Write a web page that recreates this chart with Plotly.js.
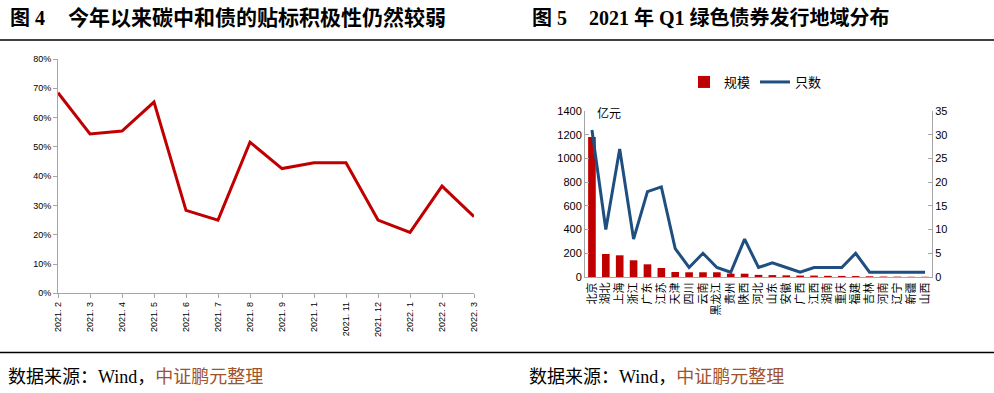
<!DOCTYPE html>
<html><head><meta charset="utf-8">
<script src="https://cdn.plot.ly/plotly-3.0.1.min.js"></script>
<style>body{margin:0;padding:0;background:#fff}#c{width:994px;height:393px}</style>
</head><body><div id="c"></div>
<script>
// Figure 4: share of labelled carbon-neutral bonds (%)
const months = ["2021. 2","2021. 3","2021. 4","2021. 5","2021. 6","2021. 7","2021. 8","2021. 9","2021. 1","2021. 11","2021. 12","2022. 1","2022. 2","2022. 3"];
const ratio = [68.5, 54.4, 55.4, 65.3, 28.3, 25.0, 51.6, 42.6, 44.6, 44.6, 25.0, 20.8, 36.6, 26.2];

// Figure 5: 2021 Q1 green bond issuance by region
const regions = ["北京","湖北","上海","浙江","广东","江苏","天津","四川","云南","黑龙江","贵州","陕西","河北","山东","安徽","广西","江西","湖南","重庆","福建","吉林","河南","辽宁","新疆","山西"];
const scale = [1180, 194, 183, 141, 107, 76, 42, 40, 40, 40, 28, 28, 18, 16, 14, 12, 12, 10, 9, 8, 6, 4, 3, 2, 2];
const count = [31, 10, 27, 8, 18, 19, 6, 2, 5, 2, 1, 8, 2, 3, 2, 1, 2, 2, 2, 5, 1, 1, 1, 1, 1];

const W = 994, H = 393;
const px = x => x / W, py = y => 1 - y / H;
const tickFont = {family: "Liberation Sans, Noto Sans CJK SC, sans-serif", size: 9, color: "#000"};
const cjkFont = {family: "Noto Sans CJK SC, sans-serif", size: 11, color: "#000"};
const axisGray = "#A6A6A6";

const traces = [
  {x: months, y: ratio, type: "scatter", mode: "lines", xaxis: "x", yaxis: "y",
   line: {color: "#C00000", width: 3}, showlegend: false, name: "比例"},
  {x: regions, y: scale, type: "bar", xaxis: "x2", yaxis: "y2", name: "规模",
   marker: {color: "#C00000"}},
  {x: regions, y: count, type: "scatter", mode: "lines", xaxis: "x2", yaxis: "y3", name: "只数",
   line: {color: "#1F4E80", width: 3}}
];

const titleFont = {family: "Liberation Serif, Noto Sans CJK SC, serif", size: 20, color: "#000", weight: 700};
const title1Font = Object.assign({}, titleFont, {size: 21});
const srcFont = {family: "Liberation Serif, Noto Sans CJK SC, serif", size: 18, color: "#000"};

const ann = (text, x, y, font) => ({text, xref: "paper", yref: "paper", x: px(x), y: py(y),
  xanchor: "left", yanchor: "middle", showarrow: false, font});

const layout = {
  width: W, height: H, autosize: false,
  margin: {l: 0, r: 0, t: 0, b: 0},
  paper_bgcolor: "#fff", plot_bgcolor: "rgba(0,0,0,0)",
  showlegend: true, bargap: 0.45,
  legend: {orientation: "h", x: px(684), y: py(67), xanchor: "left", yanchor: "top",
           font: {family: "Noto Sans CJK SC, sans-serif", size: 13, color: "#000"},
           bgcolor: "rgba(0,0,0,0)", itemwidth: 30, traceorder: "normal"},
  xaxis: {domain: [px(58), px(474)], type: "category", range: [0, 13],
          showline: true, linecolor: axisGray, linewidth: 1, ticks: "outside", ticklen: 4,
          tickcolor: axisGray, tickangle: -90, tickfont: tickFont, showgrid: false, zeroline: false,
          anchor: "y"},
  yaxis: {domain: [py(293.3), py(59)], range: [0, 80], dtick: 10, ticksuffix: "%",
          showline: true, linecolor: axisGray, linewidth: 1, ticks: "outside", ticklen: 4,
          tickcolor: axisGray, tickfont: tickFont, showgrid: false, zeroline: false, anchor: "x"},
  xaxis2: {domain: [px(585), px(932)], type: "category", range: [-0.5, 24.5],
           showline: true, linecolor: axisGray, linewidth: 1, ticks: "",
           tickangle: -90, tickfont: cjkFont, showgrid: false, zeroline: false, anchor: "y2"},
  yaxis2: {domain: [py(277), py(111)], range: [0, 1400], dtick: 200,
           showline: true, linecolor: axisGray, linewidth: 1, ticks: "inside", ticklen: 4,
           tickcolor: axisGray, tickfont: {family: "Liberation Sans, sans-serif", size: 11, color: "#000"},
           showgrid: false, zeroline: false, anchor: "x2"},
  yaxis3: {overlaying: "y2", side: "right", range: [0, 35], dtick: 5, anchor: "x2",
           showline: true, linecolor: axisGray, linewidth: 1, ticks: "inside", ticklen: 4,
           tickcolor: axisGray, tickfont: {family: "Liberation Sans, sans-serif", size: 11, color: "#000"},
           showgrid: false, zeroline: false},
  shapes: [
    {type: "line", xref: "paper", yref: "paper", x0: 0, x1: 1, y0: py(40), y1: py(40),
     line: {color: "#000", width: 1.5}},
    {type: "line", xref: "paper", yref: "paper", x0: 0, x1: 1, y0: py(352.5), y1: py(352.5),
     line: {color: "#000", width: 1.5}}
  ],
  annotations: [
    ann("图 4", 8, 18, titleFont),
    ann("今年以来碳中和债的贴标积极性仍然较弱", 66, 18, title1Font),
    ann("图 5", 530, 18, titleFont),
    ann("2021 年 Q1 绿色债券发行地域分布", 587, 18, titleFont),
    ann("亿元", 595, 112, {family: "Noto Sans CJK SC, sans-serif", size: 12, color: "#000"}),
    ann("数据来源：Wind，<span style='color:#A0522D'>中证鹏元整理</span>", 6, 377, srcFont),
    ann("数据来源：Wind，<span style='color:#A0522D'>中证鹏元整理</span>", 527, 377, srcFont)
  ]
};

Plotly.newPlot("c", traces, layout, {displayModeBar: false, staticPlot: true});
</script>
</body></html>
